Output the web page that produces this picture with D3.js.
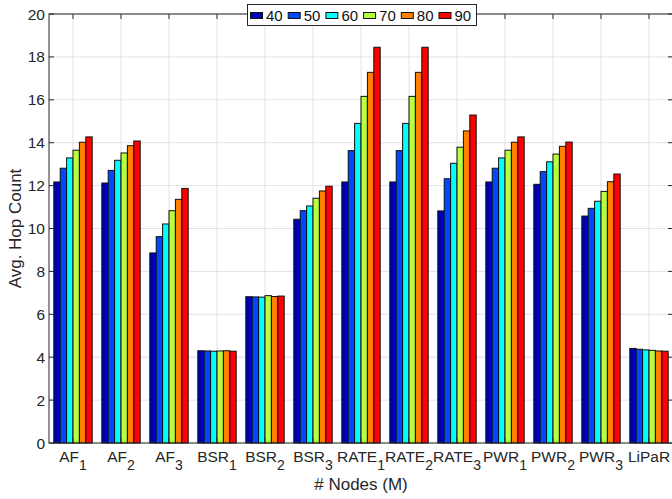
<!DOCTYPE html>
<html>
<head>
<meta charset="utf-8">
<script src="https://cdn.jsdelivr.net/npm/d3@7"></script>
<style>
  body { margin: 0; background: #fff; }
  svg { display: block; font-family: "Liberation Sans", Arial, Helvetica, sans-serif; }
</style>
</head>
<body>
<svg width="672" height="499"></svg>
<script>
// gruppi (etichetta base + pedice)
var gruppi = [["AF","1"],["AF","2"],["AF","3"],["BSR","1"],["BSR","2"],["BSR","3"],
  ["RATE","1"],["RATE","2"],["RATE","3"],["PWR","1"],["PWR","2"],["PWR","3"],["LiPaR",""]];

// serie: numero di nodi
var serie = ["40","50","60","70","80","90"];
var colori = ["#0000b8","#0048ff","#00ffff","#b8ff40","#ff8000","#ff0000"];

// valori per serie (uno per gruppo)
var v40 = [12.17,12.12, 8.86,4.30,6.82,10.43,12.17,12.17,10.82,12.17,12.06,10.58,4.41];
var v50 = [12.81,12.71, 9.62,4.29,6.81,10.83,13.63,13.63,12.32,12.81,12.65,10.94,4.37];
var v60 = [13.29,13.18,10.21,4.28,6.80,11.05,14.90,14.90,13.04,13.29,13.11,11.27,4.34];
var v70 = [13.65,13.52,10.83,4.29,6.87,11.41,16.16,16.16,13.79,13.65,13.47,11.73,4.32];
var v80 = [14.02,13.86,11.36,4.30,6.83,11.75,17.28,17.28,14.55,14.02,13.83,12.18,4.29];
var v90 = [14.27,14.08,11.87,4.28,6.85,11.97,18.45,18.45,15.29,14.27,14.03,12.54,4.28];
var valori = [v40,v50,v60,v70,v80,v90];

var yTicks = [0,2,4,6,8,10,12,14,16,18,20];

var svg = d3.select("svg");
var sinistra = 49, destra = 673, alto = 14, basso = 443;

var x = d3.scaleLinear().domain([0.5, gruppi.length + 0.5]).range([sinistra, destra]);
var y = d3.scaleLinear().domain([0, 20]).range([basso, alto]);

var colAsse = "#262626";

// griglia
svg.append("g").selectAll("line").data(yTicks).enter().append("line")
  .attr("x1", sinistra).attr("x2", destra)
  .attr("y1", function(d){ return y(d); }).attr("y2", function(d){ return y(d); })
  .attr("stroke", "#e3e3e3").attr("stroke-width", 1);
svg.append("g").selectAll("line").data(gruppi).enter().append("line")
  .attr("x1", function(d,i){ return x(i+1); }).attr("x2", function(d,i){ return x(i+1); })
  .attr("y1", alto).attr("y2", basso)
  .attr("stroke", "#e3e3e3").attr("stroke-width", 1);

// barre
var larghezzaGruppo = 0.8;
var lb = larghezzaGruppo / serie.length;
var barre = svg.append("g");
valori.forEach(function(vals, s){
  barre.selectAll(null).data(vals).enter().append("rect")
    .attr("x", function(d,i){ return x(i + 1 - larghezzaGruppo/2 + s*lb); })
    .attr("width", x(lb) - x(0))
    .attr("y", function(d){ return y(d); })
    .attr("height", function(d){ return basso - y(d); })
    .attr("fill", colori[s])
    .attr("stroke", "#111")
    .attr("stroke-width", 1);
});

// assi
var assi = svg.append("g").attr("stroke", colAsse).attr("stroke-width", 1).attr("fill", "none");
assi.append("rect").attr("x", sinistra).attr("y", alto)
  .attr("width", destra - sinistra).attr("height", basso - alto);

var tl = 5;
yTicks.forEach(function(t){
  assi.append("line").attr("x1", sinistra).attr("x2", sinistra + tl).attr("y1", y(t)).attr("y2", y(t));
  assi.append("line").attr("x1", destra - tl).attr("x2", destra).attr("y1", y(t)).attr("y2", y(t));
});
gruppi.forEach(function(g, i){
  assi.append("line").attr("x1", x(i+1)).attr("x2", x(i+1)).attr("y1", basso).attr("y2", basso - tl);
  assi.append("line").attr("x1", x(i+1)).attr("x2", x(i+1)).attr("y1", alto).attr("y2", alto + tl);
});

// etichette asse y
svg.append("g").selectAll("text").data(yTicks).enter().append("text")
  .attr("x", sinistra - 4).attr("y", function(d){ return y(d) + 5.5; })
  .attr("text-anchor", "end").attr("font-size", 15.5).attr("fill", colAsse)
  .text(function(d){ return d; });

// etichette asse x con pedice
var lx = svg.append("g").selectAll("text").data(gruppi).enter().append("text")
  .attr("x", function(d,i){ return x(i+1); }).attr("y", 462)
  .attr("text-anchor", "middle").attr("font-size", 15.5).attr("fill", colAsse);
lx.append("tspan").text(function(d){ return d[0]; });
lx.append("tspan").attr("dy", 8).attr("font-size", 14).text(function(d){ return d[1]; });

// titoli assi
svg.append("text").attr("x", (sinistra + destra)/2).attr("y", 490)
  .attr("text-anchor", "middle").attr("font-size", 17).attr("fill", colAsse)
  .text("# Nodes (M)");
svg.append("text").attr("transform", "translate(21," + ((alto + basso)/2) + ") rotate(-90)")
  .attr("text-anchor", "middle").attr("font-size", 17).attr("fill", colAsse)
  .text("Avg. Hop Count");

// legenda
var leg = svg.append("g");
leg.append("rect").attr("x", 247.5).attr("y", 4.5).attr("width", 229).attr("height", 21)
  .attr("fill", "#fff").attr("stroke", colAsse).attr("stroke-width", 1);
serie.forEach(function(s, i){
  var lx0 = 250 + i*37.7;
  leg.append("rect").attr("x", lx0 + 0.5).attr("y", 12.5).attr("width", 12).attr("height", 6)
    .attr("fill", colori[i]).attr("stroke", "#111");
  leg.append("text").attr("x", lx0 + 16).attr("y", 21).attr("font-size", 15).attr("fill", "#111")
    .text(s);
});
</script>
</body>
</html>
